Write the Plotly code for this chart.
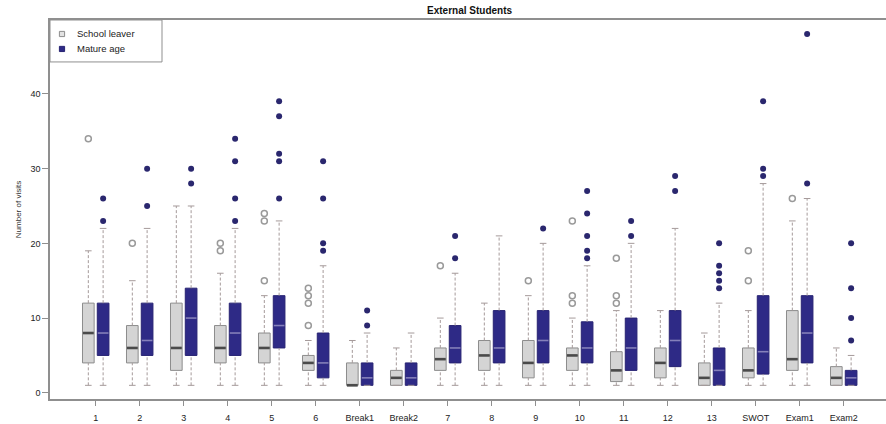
import plotly.graph_objects as go

# Weekly visit counts summarised as box-plot statistics per teaching period
categories = ["1", "2", "3", "4", "5", "6", "Break1", "Break2", "7", "8", "9",
              "10", "11", "12", "13", "SWOT", "Exam1", "Exam2"]

# School leaver
sl_low = [1] * 18
sl_q1 = [4, 4, 3, 4, 4, 3, 1, 1, 3, 3, 2, 3, 1.5, 2, 1, 2, 3, 1]
sl_med = [8, 6, 6, 6, 6, 4, 1, 2, 4.5, 5, 4, 5, 3, 4, 2, 3, 4.5, 2]
sl_q3 = [12, 9, 12, 9, 8, 5, 4, 3, 6, 7, 7, 6, 5.5, 6, 4, 6, 11, 3.5]
sl_high = [19, 15, 25, 16, 13, 7, 7, 6, 10, 12, 13, 10, 11, 11, 8, 11, 23, 6]
sl_out = [[34], [20], [], [19, 20], [15, 23, 24], [9, 12, 13, 14], [], [], [17],
          [], [15], [12, 13, 23], [12, 13, 18], [], [], [15, 19], [26], []]

# Mature age
ma_low = [1] * 18
ma_q1 = [5, 5, 5, 5, 6, 2, 1, 1, 4, 4, 4, 4, 3, 3.5, 1, 2.5, 4, 1]
ma_med = [8, 7, 10, 8, 9, 4, 2, 2, 6, 6, 7, 6, 6, 7, 3, 5.5, 8, 2]
ma_q3 = [12, 12, 14, 12, 13, 8, 4, 4, 9, 11, 11, 9.5, 10, 11, 6, 13, 13, 3]
ma_high = [22, 22, 25, 22, 23, 17, 8, 8, 16, 21, 20, 17, 20, 22, 12, 28, 26, 5]
ma_out = [[23, 26], [25, 30], [28, 30], [23, 26, 31, 34], [26, 31, 32, 37, 39],
          [19, 20, 26, 31], [9, 11], [], [18, 21], [], [22],
          [18, 19, 21, 24, 27], [21, 23], [27, 29], [14, 15, 16, 17, 20],
          [29, 30, 39], [28, 48], [7, 10, 14, 20]]

OFFSET = 0.168
BOX_W = 0.265
CAP_HALF = 0.075
WHISKER_COLOR = "#a59a9a"
AXIS_COLOR = "#8f8f8f"
FONT = "Liberation Sans, Arial, sans-serif"

# plot area in pixels (used to lay out the key box in paper units)
PLOT_L, PLOT_R, PLOT_T, PLOT_B = 50, 886, 20, 399.5
PW, PH = PLOT_R - PLOT_L, PLOT_B - PLOT_T

series = [
    dict(name="School leaver", shift=-OFFSET, low=sl_low, q1=sl_q1, med=sl_med,
         q3=sl_q3, high=sl_high, out=sl_out, fill="#d4d4d4", edge="#8c8c8c",
         median="#4a4a4a", median_w=2.6,
         out_marker=dict(symbol="circle-open", size=6, color="#9a9a9a",
                         line=dict(width=1.5, color="#9a9a9a")),
         key_fill="#e2e2e2", key_edge="#8c8c8c"),
    dict(name="Mature age", shift=OFFSET, low=ma_low, q1=ma_q1, med=ma_med,
         q3=ma_q3, high=ma_high, out=ma_out, fill="#2e2a86", edge="#272372",
         median="#8580bb", median_w=1.6,
         out_marker=dict(symbol="circle", size=6, color="#2a276e"),
         key_fill="#2e2a86", key_edge="#272372"),
]

fig = go.Figure()

for s in series:
    xs = [i + s["shift"] for i in range(len(categories))]

    # dashed whiskers from the box edges out to the whisker ends
    wx, wy = [], []
    for x, lo, a, b, hi in zip(xs, s["low"], s["q1"], s["q3"], s["high"]):
        wx += [x, x, None, x, x, None]
        wy += [lo, a, None, b, hi, None]
    fig.add_trace(go.Scatter(x=wx, y=wy, mode="lines", hoverinfo="skip",
                             line=dict(color=WHISKER_COLOR, width=1, dash="3px,2px"),
                             showlegend=False))

    # whisker end caps
    cx, cy = [], []
    for x, lo, hi in zip(xs, s["low"], s["high"]):
        cx += [x - CAP_HALF, x + CAP_HALF, None, x - CAP_HALF, x + CAP_HALF, None]
        cy += [lo, lo, None, hi, hi, None]
    fig.add_trace(go.Scatter(x=cx, y=cy, mode="lines", hoverinfo="skip",
                             line=dict(color=WHISKER_COLOR, width=1),
                             showlegend=False))

    # boxes from precomputed quartiles
    fig.add_trace(go.Box(x=xs, q1=s["q1"], median=s["med"], q3=s["q3"],
                         lowerfence=s["q1"], upperfence=s["q3"],
                         width=BOX_W, whiskerwidth=0, fillcolor=s["fill"],
                         line=dict(color=s["edge"], width=1),
                         name=s["name"], showlegend=False, hoverinfo="skip"))

    # median bars
    mx, my = [], []
    for x, m in zip(xs, s["med"]):
        mx += [x - BOX_W / 2 + 0.01, x + BOX_W / 2 - 0.01, None]
        my += [m, m, None]
    fig.add_trace(go.Scatter(x=mx, y=my, mode="lines", hoverinfo="skip",
                             line=dict(color=s["median"], width=s["median_w"]),
                             showlegend=False))

    # outliers
    ox, oy = [], []
    for x, pts in zip(xs, s["out"]):
        ox += [x] * len(pts)
        oy += pts
    fig.add_trace(go.Scatter(x=ox, y=oy, mode="markers", marker=s["out_marker"],
                             name=s["name"], showlegend=False))

# key box in the top-left corner
shapes = [dict(type="rect", xref="paper", yref="paper",
               x0=0, x1=(162 - PLOT_L) / PW, y0=1 - 42 / PH, y1=1,
               line=dict(color=AXIS_COLOR, width=1), fillcolor="white", layer="above")]
annotations = []
for k, s in enumerate(series):
    row_y = 1 - (14 + 15 * k) / PH
    sx = 12 / PW
    hx, hy = 2.6 / PW, 2.6 / PH
    shapes.append(dict(type="rect", xref="paper", yref="paper",
                       x0=sx - hx, x1=sx + hx, y0=row_y - hy, y1=row_y + hy,
                       fillcolor=s["key_fill"], line=dict(color=s["key_edge"], width=1),
                       layer="above"))
    annotations.append(dict(text=s["name"], xref="paper", yref="paper",
                            x=25 / PW, y=row_y, xanchor="left", yanchor="middle",
                            showarrow=False,
                            font=dict(size=9.5, family=FONT, color="#222222")))

fig.update_layout(
    width=886, height=424,
    margin=dict(l=PLOT_L, r=886 - PLOT_R, t=PLOT_T, b=424 - PLOT_B, autoexpand=False),
    paper_bgcolor="white", plot_bgcolor="white",
    font=dict(family=FONT, size=9, color="#222222"),
    boxmode="overlay",
    showlegend=False,
    title=dict(text="<b>External Students</b>", x=0.53, xanchor="center",
               y=1 - 10 / 424, yanchor="middle", yref="container",
               font=dict(size=10, color="#111111", family=FONT)),
    shapes=shapes,
    annotations=annotations,
)

fig.update_xaxes(
    range=[-1.039, 17.961], tickmode="array",
    tickvals=list(range(len(categories))), ticktext=categories,
    ticks="outside", ticklen=5, tickcolor=AXIS_COLOR, tickwidth=1,
    ticklabelstandoff=4,
    showline=True, linecolor=AXIS_COLOR, linewidth=1.5, mirror=True,
    showgrid=False, zeroline=False, automargin=False,
)
fig.update_yaxes(
    range=[-0.83, 49.89], tickvals=[0, 10, 20, 30, 40],
    ticks="outside", ticklen=6, tickcolor=AXIS_COLOR, tickwidth=1,
    showline=True, linecolor=AXIS_COLOR, linewidth=1.5,
    showgrid=False, zeroline=False, automargin=False,
    title=dict(text="Number of visits", standoff=8,
               font=dict(size=8, family=FONT, color="#333333")),
)

fig.write_html("out.html")
